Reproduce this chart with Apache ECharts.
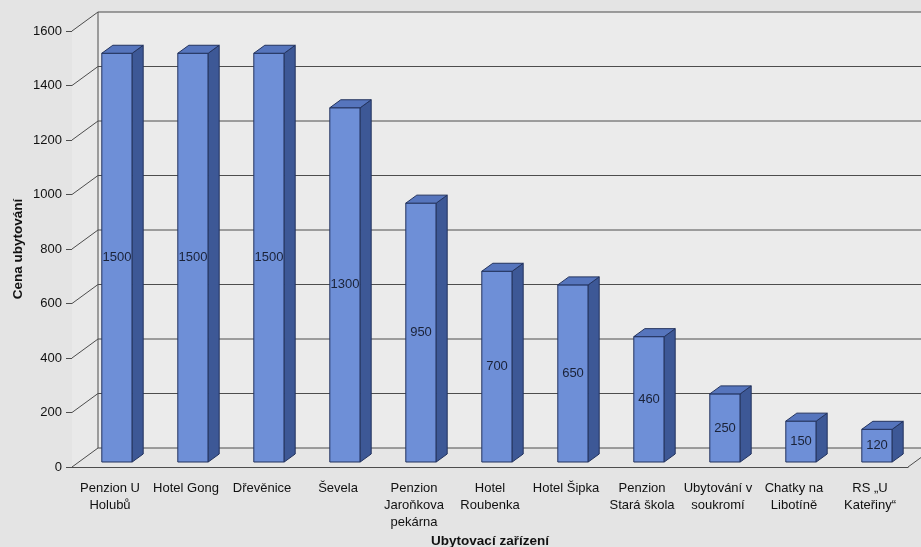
<!DOCTYPE html>
<html>
<head>
<meta charset="utf-8">
<script src="https://cdn.jsdelivr.net/npm/echarts@6/dist/echarts.min.js"></script>
<style>
html, body { margin: 0; padding: 0; background: #e4e4e4; }
#chart { width: 921px; height: 547px; }
</style>
</head>
<body>
<div id="chart"></div>
<script>
// data (line breaks as in the original labels)
var categories = ['Penzion U\nHolubů', 'Hotel Gong', 'Dřevěnice', 'Ševela', 'Penzion\nJaroňkova\npekárna',
    'Hotel\nRoubenka', 'Hotel Šipka', 'Penzion\nStará škola', 'Ubytování v\nsoukromí', 'Chatky na\nLibotíně', 'RS „U\nKateřiny“'];
var prices = [1500, 1500, 1500, 1300, 950, 700, 650, 460, 250, 150, 120];
var yTicks = [0, 200, 400, 600, 800, 1000, 1200, 1400, 1600];

// fake 3D look
var WALL_DX = 26, WALL_DY = -19;   // depth of the chart box
var BAR_OX = 7, BAR_OY = -5;       // bar front face offset from the front plane
var BAR_DX = 11, BAR_DY = -8;      // bar depth
var FONT = '"Liberation Sans", Arial, sans-serif';

var chart = echarts.init(document.getElementById('chart'));

function renderFrame(params, api) {
    var cs = params.coordSys;
    var y = api.coord([0, api.value(1)])[1];
    var x0 = cs.x, x1 = cs.x + cs.width;
    var lineStyle = { stroke: '#4d4d4d', lineWidth: 1, fill: null };
    var children = [];
    if (params.dataIndex === 0) {
        var top = api.coord([0, yTicks[yTicks.length - 1]])[1];
        // back wall
        children.push({ type: 'polygon', shape: { points: [[x0 + WALL_DX, top + WALL_DY], [x1 + WALL_DX, top + WALL_DY], [x1 + WALL_DX, y + WALL_DY], [x0 + WALL_DX, y + WALL_DY]] }, style: { fill: '#ebebeb' } });
        // left wall
        children.push({ type: 'polygon', shape: { points: [[x0, top], [x0 + WALL_DX, top + WALL_DY], [x0 + WALL_DX, y + WALL_DY], [x0, y]] }, style: { fill: '#e9e9e9' } });
        // floor
        children.push({ type: 'polygon', shape: { points: [[x0, y], [x0 + WALL_DX, y + WALL_DY], [x1 + WALL_DX, y + WALL_DY], [x1, y]] }, style: { fill: '#e6e6e6' } });
        children.push({ type: 'line', shape: { x1: x0 + WALL_DX, y1: top + WALL_DY, x2: x0 + WALL_DX, y2: y + WALL_DY }, style: lineStyle });
        children.push({ type: 'line', shape: { x1: x1, y1: y, x2: x1 + WALL_DX, y2: y + WALL_DY }, style: lineStyle });
    }
    children.push({ type: 'line', shape: { x1: x0, y1: y, x2: x0 + WALL_DX, y2: y + WALL_DY }, style: lineStyle });
    children.push({ type: 'line', shape: { x1: x0 + WALL_DX, y1: y + WALL_DY, x2: x1 + WALL_DX, y2: y + WALL_DY }, style: lineStyle });
    return { type: 'group', children: children };
}

function renderBar(params, api) {
    var v = api.value(1);
    var topPt = api.coord([api.value(0), v]);
    var basePt = api.coord([api.value(0), 0]);
    var w = api.size([1, 0])[0] * 0.4;
    var x = topPt[0] + BAR_OX - w / 2;
    var y = topPt[1] + BAR_OY;
    var h = basePt[1] - topPt[1];
    var edge = '#23335e';
    return {
        type: 'group',
        children: [
            { type: 'rect', shape: { x: x, y: y, width: w, height: h }, style: { fill: '#6e8fd7', stroke: edge, lineWidth: 1 } },
            { type: 'polygon', shape: { points: [[x + w, y], [x + w + BAR_DX, y + BAR_DY], [x + w + BAR_DX, y + h + BAR_DY], [x + w, y + h]] }, style: { fill: '#3d5896', stroke: edge, lineWidth: 1 } },
            { type: 'polygon', shape: { points: [[x, y], [x + BAR_DX, y + BAR_DY], [x + w + BAR_DX, y + BAR_DY], [x + w, y]] }, style: { fill: '#5675bd', stroke: edge, lineWidth: 1 } },
            { type: 'text', style: { text: String(v), x: x + w / 2, y: y + h / 2, align: 'center', verticalAlign: 'middle', font: '13px ' + FONT, fill: '#1a2238' } }
        ]
    };
}

var option = {
    backgroundColor: '#e4e4e4',
    animation: false,
    grid: { left: 72, right: 13, top: 31, bottom: 80, outerBoundsMode: 'none', containLabel: false },
    xAxis: {
        type: 'category',
        data: categories,
        name: 'Ubytovací zařízení',
        nameLocation: 'middle',
        nameGap: 67,
        nameMoveOverlap: false,
        nameTextStyle: { fontFamily: FONT, fontSize: 13.5, fontWeight: 'bold', color: '#111' },
        axisLine: { lineStyle: { color: '#4d4d4d', width: 1 } },
        axisTick: { length: 7, lineStyle: { color: '#4d4d4d' } },
        axisLabel: { interval: 0, margin: 13, fontFamily: FONT, fontSize: 13, lineHeight: 17, color: '#111' },
        splitLine: { show: false }
    },
    yAxis: {
        type: 'value',
        min: 0,
        max: 1600,
        interval: 200,
        name: 'Cena ubytování',
        nameLocation: 'middle',
        nameGap: 47,
        nameMoveOverlap: false,
        nameTextStyle: { fontFamily: FONT, fontSize: 13.5, fontWeight: 'bold', color: '#111' },
        axisLine: { show: true, lineStyle: { color: '#4d4d4d', width: 1 } },
        axisTick: { show: true, length: 6, lineStyle: { color: '#4d4d4d' } },
        axisLabel: { margin: 10, fontFamily: FONT, fontSize: 13, color: '#111', formatter: function (v) { return String(v); } },
        splitLine: { show: false }
    },
    series: [
        {
            type: 'custom',
            renderItem: renderFrame,
            clip: false,
            silent: true,
            z: 1,
            data: yTicks.map(function (t) { return [0, t]; })
        },
        {
            type: 'custom',
            renderItem: renderBar,
            clip: false,
            z: 2,
            data: prices.map(function (p, i) { return [i, p]; })
        }
    ]
};

chart.setOption(option);
</script>
</body>
</html>
